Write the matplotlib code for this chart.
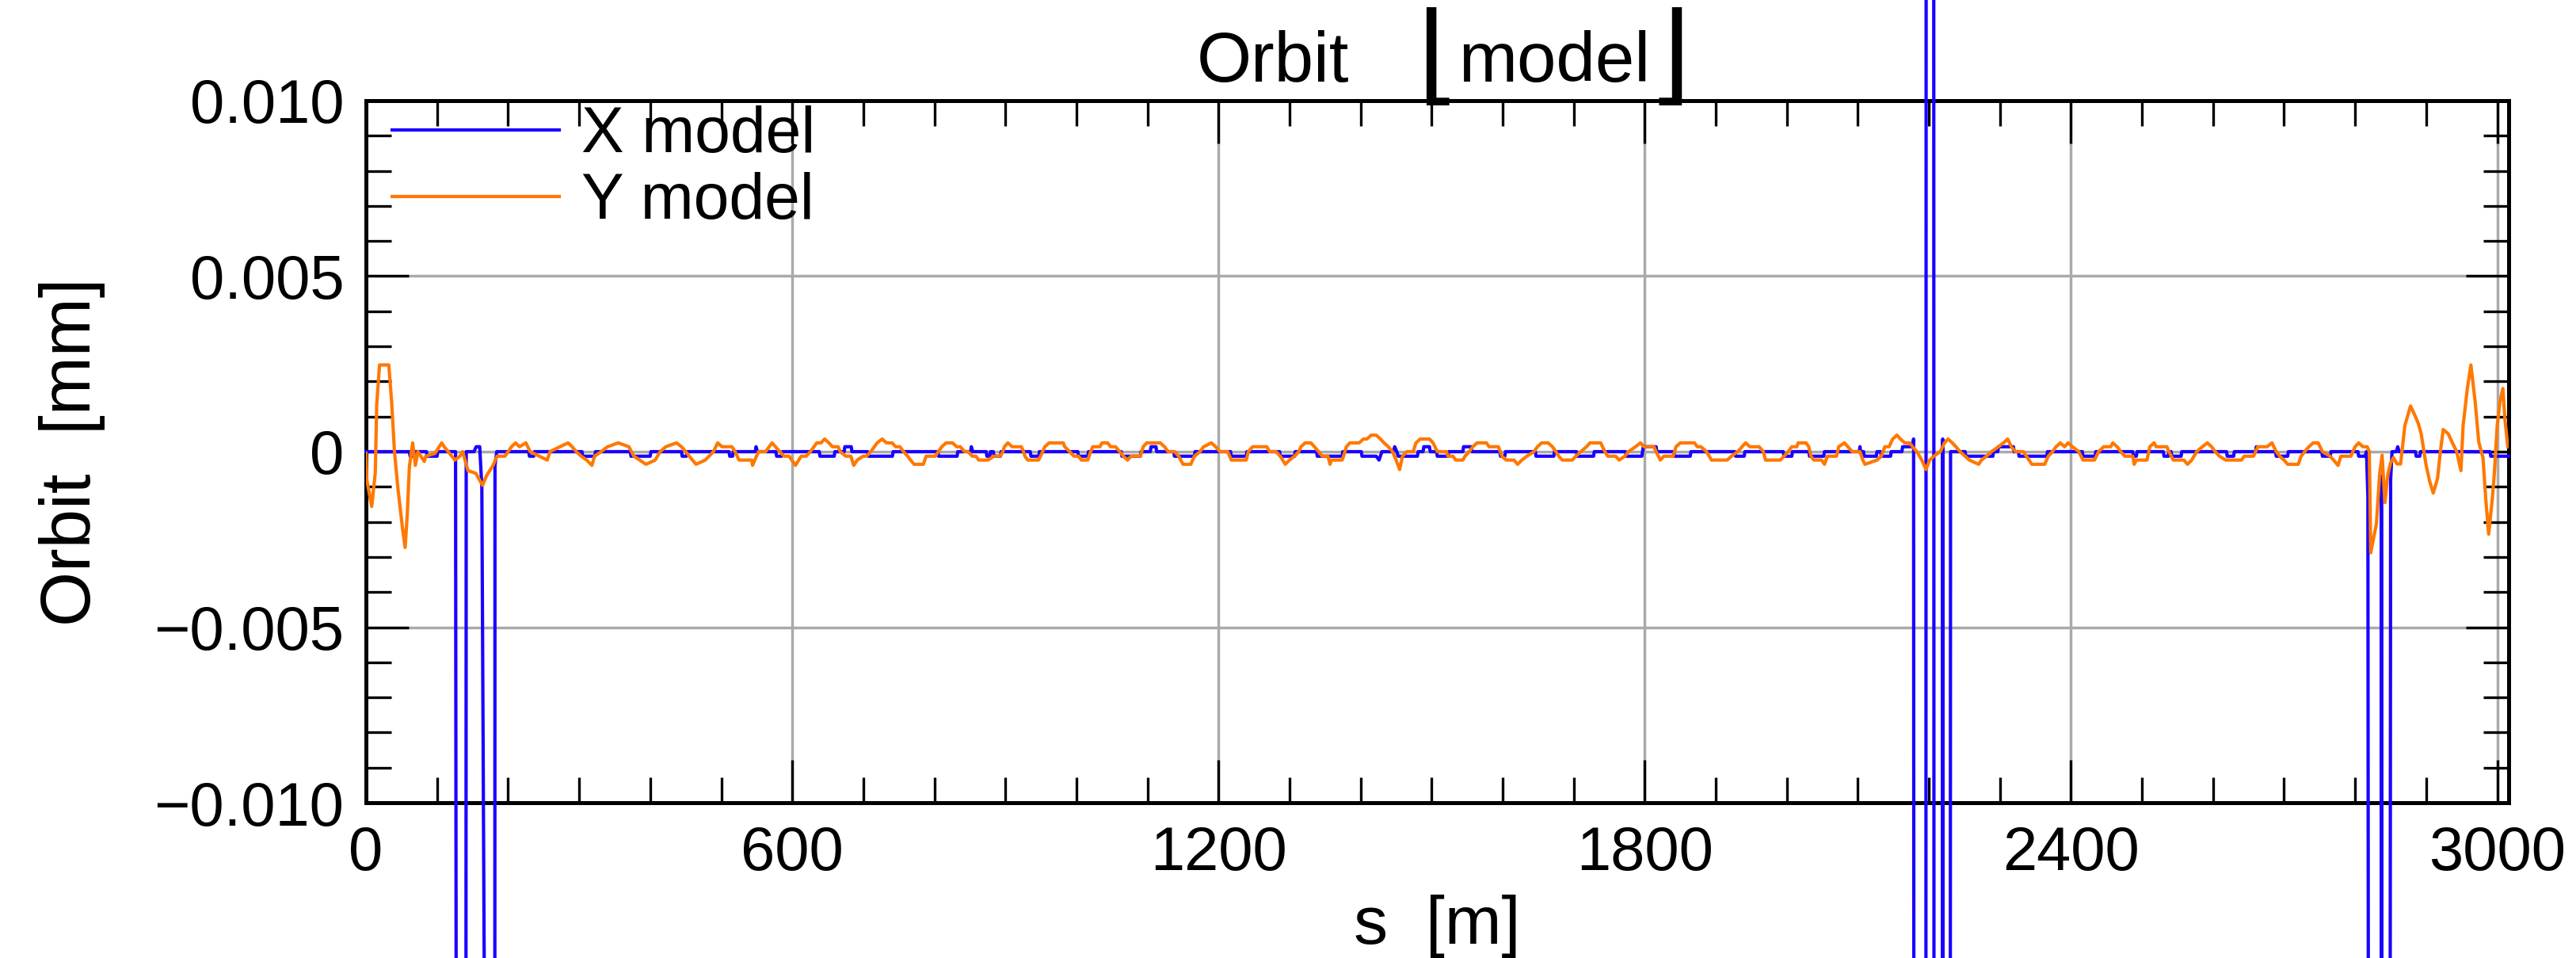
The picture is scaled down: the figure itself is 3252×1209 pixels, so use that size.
import numpy as np
import matplotlib.pyplot as plt
from matplotlib.patches import Rectangle

plt.rcParams['font.family'] = ['Liberation Sans', 'DejaVu Sans']

# horizontal orbit (model), s in m, orbit in units of 1e-4 mm
x_s = [0, 61, 62, 67, 68, 85, 86, 100, 101, 126, 128.7, 139.9, 141, 152, 155, 160,
       163, 175, 180.8, 181.5, 184, 229, 230, 236, 237, 304, 305, 322, 323, 372, 373,
       400, 401, 444, 445, 451, 452,
       511, 512, 516, 517, 548, 549, 551, 577, 578, 585, 586, 638, 639, 659, 660,
       673, 674, 683, 684, 706, 707, 741, 742, 805, 806, 832, 833, 851, 852, 854,
       873, 874, 878, 879, 883, 884, 893, 894, 935, 936, 947, 948,
       1002, 1003, 1016, 1017, 1063, 1064, 1090, 1091, 1104, 1105, 1112, 1113,
       1137, 1138, 1166, 1167, 1217, 1218, 1239, 1240, 1286, 1287, 1307, 1308,
       1338, 1339, 1374, 1375, 1401, 1402, 1422, 1426, 1430, 1446, 1448, 1451,
       1453, 1480, 1481, 1488, 1489, 1497, 1498,
       1507, 1508, 1523, 1524, 1544, 1545, 1556, 1557, 1596, 1597, 1603, 1604,
       1646, 1647, 1672, 1673, 1704, 1705, 1728, 1729, 1773, 1774, 1796, 1798,
       1816, 1817, 1841, 1842, 1864, 1865, 1927, 1928, 1940, 1941, 1995, 1996,
       2007, 2008,
       2031, 2032, 2052, 2053, 2102, 2103, 2104, 2108, 2109, 2126, 2127, 2132,
       2133, 2146, 2147, 2162, 2163, 2177, 2178.5, 2179.5, 2195.5, 2196.5, 2206.5,
       2207.5, 2218.5, 2219.5, 2220.5, 2229.5, 2230.5, 2251, 2252, 2290, 2291,
       2297, 2298, 2319, 2320, 2326, 2327, 2366, 2367, 2416, 2417, 2434, 2435,
       2487, 2488, 2492, 2493,
       2530, 2531, 2537, 2538, 2541, 2542, 2555, 2556, 2619, 2620, 2629, 2630,
       2660, 2661, 2662, 2688, 2689, 2705, 2706, 2753, 2754, 2765, 2766, 2804,
       2805, 2814, 2816, 2818, 2820, 2836, 2837, 2839, 2848, 2850, 2852, 2858,
       2860, 2862, 2885, 2886, 2891, 2892, 2990, 2991, 3016]
x_orbit = [0, 0, -1.3, -1.3, 0, 0, -1.3, -1.3, 0, 0, -500, -500, 0, 0, 1.4, 1.4,
           -10, -500, -500, -4, 0, 0, -1.3, -1.3, 0, 0, -1.3, -1.3, 0, 0, -1.3,
           -1.3, 0, 0, -1.3, -1.3, 0,
           0, -1.3, -1.3, 0, 0, 1.4, 0, 0, -1.3, -1.3, 0, 0, -1.3, -1.3, 0,
           0, 1.4, 1.4, 0, 0, -1.3, -1.3, 0, 0, -1.3, -1.3, 0, 0, 1.4, 0,
           0, -1.3, -1.3, 0, 0, -1.3, -1.3, 0, 0, -1.3, -1.3, 0,
           0, -1.3, -1.3, 0, 0, -1.3, -1.3, 0, 0, 1.4, 1.4, 0,
           0, -1.3, -1.3, 0, 0, -1.3, -1.3, 0, 0, -1.3, -1.3, 0,
           0, -1.3, -1.3, 0, 0, -1.3, -1.3, -2.4, 0, 0, 1.4, 0,
           -1.3, -1.3, 0, 0, 1.4, 1.4, 0,
           0, -1.3, -1.3, 0, 0, 1.4, 1.4, 0, 0, -1.3, -1.3, 0,
           0, -1.3, -1.3, 0, 0, -1.3, -1.3, 0, 0, -1.3, -1.3, 1.4,
           1.4, 0, 0, -1.3, -1.3, 0, 0, -1.3, -1.3, 0, 0, -1.3,
           -1.3, 0,
           0, -1.3, -1.3, 0, 0, 1.4, 0, 0, -1.3, -1.3, 0, 0,
           -1.3, -1.3, 0, 0, 1.4, 1.4, 3.6, -500, -500, 500, 500,
           -500, -500, 3.6, -500, -500, 0, 0, -1.3, -1.3, 0,
           0, 1.4, 1.4, 0, 0, -1.3, -1.3, 0, 0, -1.3, -1.3, 0,
           0, -1.3, -1.3, 0,
           0, -1.3, -1.3, 0, 0, -1.3, -1.3, 0, 0, -1.3, -1.3, 0,
           0, 1.4, 0, 0, -1.3, -1.3, 0, 0, -1.3, -1.3, 0, 0,
           -1.3, -1.3, 0, -13, -500, -500, -6.9, -500, -500, -8, 0, 0,
           1.4, 0, 0, -1.3, -1.3, 0, 0, -1.3, -1.3]

# vertical orbit (model)
y_s = [0, 1, 8, 13, 15, 19, 32, 36, 40, 45, 51, 55, 58, 61, 65.6, 69.4, 73, 82, 84,
       97, 106.5, 110, 115.7, 125, 132, 136, 143.5, 154.7, 164, 169.5, 178.8, 184.4,
       195.5, 204.8, 210.4, 216, 225, 231, 244, 255, 259, 273, 284.5, 290, 296, 303,
       310.5, 318, 321.6, 331, 340, 355, 370, 377, 394, 407, 414, 422, 437, 444, 450,
       455, 464.5, 477.5, 489, 495,
       501, 515, 519.5, 525, 543, 544, 552.5, 562.5, 571.5, 582.5, 588.5, 595.5,
       604.5, 612.5, 619.5, 625.5, 634.5, 640.5, 645.5, 651.5, 656.5, 664.5, 667.5,
       675.5, 682.5, 686.5, 691.5, 699.5, 704.5, 710.5, 719.5, 726.5, 732.5, 740.5,
       745.5, 751.5, 756.5, 762.5, 766.5, 771.5, 784.5, 788.5, 801.5, 805.5, 810.5,
       816.5, 825.5, 831.5, 836.5, 842.5, 847.5, 853.5, 858.5, 862.5, 875.5, 883.5,
       892.5, 896.5, 898.5, 903.5, 909.5, 922.5, 925.5, 927.5, 931.5, 946.5, 949.5,
       955.5, 961.5, 981.5, 983.5, 990.5, 996.5,
       1003, 1007, 1016, 1020, 1023, 1033, 1036, 1044, 1048, 1055, 1061, 1066, 1072,
       1077, 1090, 1094, 1099, 1118, 1124, 1129, 1138, 1144, 1150, 1161, 1166, 1174,
       1179, 1190, 1196, 1202, 1213, 1218, 1239, 1242, 1248, 1268, 1272, 1281, 1287,
       1294, 1300, 1307, 1313, 1316, 1322, 1330, 1335, 1341, 1346, 1354, 1357, 1359,
       1374, 1376, 1380, 1385, 1398, 1404, 1409, 1415, 1422, 1428, 1433, 1439, 1445,
       1450, 1455, 1459, 1465, 1474, 1478, 1484, 1497, 1502,
       1508, 1521, 1523, 1530, 1534, 1544, 1547, 1553, 1558, 1564, 1577, 1581, 1594,
       1599, 1605, 1616, 1621, 1627, 1634, 1644, 1649, 1655, 1664, 1670, 1675, 1679,
       1684, 1698, 1703, 1710, 1718, 1723, 1738, 1744, 1748, 1759, 1764, 1772, 1777,
       1787, 1794, 1799, 1813, 1816, 1822, 1827, 1840, 1844, 1850, 1870, 1874, 1879,
       1887, 1894, 1916, 1922, 1931, 1937, 1942, 1948, 1961, 1967, 1970, 1991, 1996,
       2002, 2007,
       2014, 2016, 2027, 2031, 2034, 2038, 2049, 2053, 2057, 2070, 2073, 2081, 2086,
       2092, 2103, 2107, 2110, 2127, 2133, 2138, 2144, 2149, 2155, 2160, 2166, 2173,
       2177, 2183, 2190, 2196, 2201, 2207, 2216, 2222, 2227, 2233, 2238, 2244, 2251,
       2257, 2270, 2274, 2281, 2288, 2298, 2305, 2311, 2316, 2322, 2333, 2341, 2345,
       2363, 2368, 2374, 2379, 2385, 2391, 2396, 2402, 2411, 2417, 2433, 2439, 2446,
       2456, 2459, 2465, 2470, 2476, 2487, 2489, 2492, 2507, 2511, 2517,
       2520, 2535, 2538, 2544, 2559, 2564, 2570, 2577, 2585, 2592, 2598, 2603, 2609,
       2618, 2640, 2644, 2657, 2663, 2676, 2683, 2689, 2694, 2700, 2705, 2720, 2724,
       2729, 2735, 2741, 2748, 2754, 2765, 2776, 2780, 2794, 2800, 2805, 2811, 2817,
       2820, 2822, 2830, 2834.5, 2838, 2842, 2846, 2850, 2854, 2859, 2864, 2870,
       2878, 2884, 2889, 2893, 2897, 2900, 2905, 2910, 2916, 2920, 2924, 2931, 2937,
       2943, 2949, 2952, 2958, 2963, 2969, 2974, 2980, 2984, 2988, 2993, 2996, 3000,
       3004, 3008, 3011, 3015]
y_orbit = [-0.5, -8, -15.6, -6, 13.4, 24.7, 24.7, 14.2, 0, -10.7, -21.3, -27.3, -18,
           -4.3, 2.5, -3.9, 0, -2.8, -1.3, -0.5, 2.5, 1.4, 0, -2.4, -1.3, 0, -5.4,
           -6.2, -9.6, -6.9, -3.9, -1.3, -1.3, 1.4, 2.5, 1.4, 2.5, 0, -1.3, -2.4, 0,
           1.4, 2.5, 1.4, 0, -1.3, -2.4, -3.9, -1.3, 0, 1.4, 2.5, 1.4, -1.3, -3.6,
           -2.4, 0, 1.4, 2.5, 1.4, 0, -1.3, -3.6, -2.4, 0, 2.5,
           1.4, 1.4, 0, -2.4, -2.4, -3.9, 0, 0, 2.5, 0, -1.3, -1.3,
           -3.9, -1.3, -1.3, 0, 2.5, 2.5, 3.6, 2.5, 1.4, 1.4, 0,
           -1.3, -1.3, -3.9, -2.4, -1.3, -1.3, 0, 2.5, 3.6, 2.5, 2.5,
           1.4, 1.4, 0, -1.3, -2.4, -3.6, -3.6, -1.3, -1.3, 0, 1.4,
           2.5, 2.5, 1.4, 1.4, 0, 0, -1.3, -1.3, -2.4, -2.4, -1.3,
           -1.3, 0, 1.4, 2.5, 1.4, 1.4, 0, -1.3, -2.4, -2.4, -1.3,
           1.4, 2.5, 2.5, 1.4, 0, -1.3,
           -1.3, -2.4, -2.4, 0, 1.4, 1.4, 2.5, 2.5, 1.4, 1.4, 0, -1.3, -2.4,
           -1.3, -1.3, 1.4, 2.5, 2.5, 1.4, 0, 0, -1.3, -3.6, -3.6, -1.3, 0,
           1.4, 2.5, 1.4, 0, 0, -2.4, -2.4, 0, 1.4, 1.4, 0, 0, -1.3,
           -3.6, -2.4, -1.3, 0, 1.4, 2.5, 2.5, 1.4, 0, -1.3, -1.3, -3.6, -2.4,
           -2.4, -1.3, 1.4, 2.5, 2.5, 3.6, 3.6, 4.7, 4.7, 3.6, 2.5, 1.4, 0,
           -2.4, -5.1, -1.3, 0, 0, 2.5, 3.6, 3.6, 2.5,
           0, 0, -1.3, -1.3, -2.4, -2.4, -1.3, 0, 1.4, 2.5, 2.5, 1.4, 1.4,
           -1.3, -2.4, -2.4, -3.6, -2.4, -1.3, 0, 1.4, 2.5, 2.5, 1.4, 0, -1.3,
           -2.4, -2.4, -1.3, 0, 1.4, 2.5, 2.5, 0, -1.3, -1.3, -2.4, -1.3, 0,
           1.4, 2.5, 1.4, 1.4, 0, -2.4, -1.3, -1.3, 1.4, 2.5, 2.5, 1.4, 1.4,
           0, -2.4, -2.4, -1.3, 0, 1.4, 2.5, 1.4, 1.4, 0, -2.4, -2.4, -1.3,
           0, 1.4,
           1.4, 2.5, 2.5, 1.4, -1.3, -2.4, -2.4, -3.6, -1.3, -1.3, 1.4, 2.5, 1.4,
           0, 0, -2.4, -3.6, -2.4, -1.3, 1.4, 1.4, 3.6, 4.7, 3.6, 2.5, 2.5,
           1.4, 0, -2.4, -5.1, -2.4, -1.3, 0, 2.5, 3.6, 2.5, 1.4, 0, -1.3,
           -2.4, -3.6, -2.4, -1.3, 0, 1.4, 2.5, 3.6, 1.4, 0, 0, -2.4, -3.6,
           -3.6, -1.3, 0, 1.4, 2.5, 1.4, 2.5, 1.4, 0, -2.4, -2.4, 0, 1.4,
           1.4, 2.5, 1.4, 0, -1.3, -1.3, -3.6, -2.4, -2.4, 1.4, 2.5,
           1.4, 1.4, 0, -2.4, -2.4, -3.6, -2.4, 0, 1.4, 2.5, 1.4, 0, -1.3,
           -2.4, -2.4, -1.3, -1.3, 1.4, 1.4, 2.5, 0, -1.3, -2.4, -3.6, -3.6, -1.3,
           0, 1.4, 2.5, 2.5, 0, -1.3, -3.9, -1.3, -1.3, 1.4, 2.5, 1.4, 1.4,
           0, -28.8, -20.5, -6.5, -1, -14.5, -6.6, -3.2, -1.7, -3.5, -3.5, 7.4,
           13, 10.4, 8, 5.1, 0, -3.9, -8.5, -11.8, -7.7, 0, 6.3, 5.1, 2.5,
           0, -5.4, 7.4, 18, 24.7, 14.2, 2.8, -1.7, -13.7, -23.5, -13.7, -6.2, 7.4,
           14.2, 18, 9, 1.4]

xticks = [0, 600, 1200, 1800, 2400, 3000]
yticks = [0.010, 0.005, 0, -0.005, -0.010]
ytick_labels = ['0.010', '0.005', '0', '\u22120.005', '\u22120.010']

fig = plt.figure(figsize=(32.52, 12.09), dpi=100)
ax = fig.add_axes([0.1421, 0.1621, 0.9739 - 0.1421, 0.8950 - 0.1621])

blue = '#1a00ff'
orange = '#ff7800'

lx, = ax.plot(x_s, np.array(x_orbit) * 1e-4, color=blue, lw=3.0, label='X model',
              clip_on=False, zorder=3)
# the X orbit runs past the frame, cut only at the plot window edge
lx.set_clip_path(Rectangle((0, 0), 1, 1 - 32 / 1209, transform=fig.transFigure))
ax.plot(y_s, np.array(y_orbit) * 1e-4, color=orange, lw=3.0, label='Y model', zorder=4)

ax.set_xlim(0, 3016.3)
ax.set_ylim(-0.010, 0.010)
ax.set_xticks(xticks)
ax.set_xticklabels([str(t) for t in xticks])
ax.set_xticks(np.arange(0, 3017, 100), minor=True)
ax.set_yticks(yticks)
ax.set_yticklabels(ytick_labels)
ax.set_yticks(np.arange(-0.010, 0.0101, 0.001), minor=True)

ax.grid(which='major', color='#aaaaaa', linewidth=2.5)
ax.set_axisbelow(True)
for sp in ax.spines.values():
    sp.set_linewidth(3.6)
ax.tick_params(which='both', direction='in', top=True, right=True, width=2.4,
               color='black')
ax.tick_params(which='major', length=39, pad=20, labelsize=56)
ax.tick_params(which='minor', length=23)

ax.set_xlabel('s  [m]', fontsize=62, labelpad=11)
ax.set_ylabel('Orbit  [mm]', fontsize=64, labelpad=44)

ax.legend(loc='upper left', bbox_to_anchor=(0.0122, 0.993), frameon=False,
          fontsize=58, handlelength=2.62, handletextpad=0.35, labelspacing=0.1,
          borderpad=0, borderaxespad=0)

# title with floor brackets around the model name
fig.text(0.4942, 1 - 103 / 1209, 'Orbit', fontsize=64, ha='center', va='baseline')
fig.text(0.6033, 1 - 103 / 1209, 'model', fontsize=64, ha='center', va='baseline')
fig.text(0.5497, 1 - 144 / 1209, '\u230a', fontsize=100, ha='left', va='bottom',
         family=['DejaVu Sans'])
fig.text(0.6563, 1 - 144 / 1209, '\u230b', fontsize=100, ha='right', va='bottom',
         family=['DejaVu Sans'])

fig.savefig('out.png', dpi=100)
